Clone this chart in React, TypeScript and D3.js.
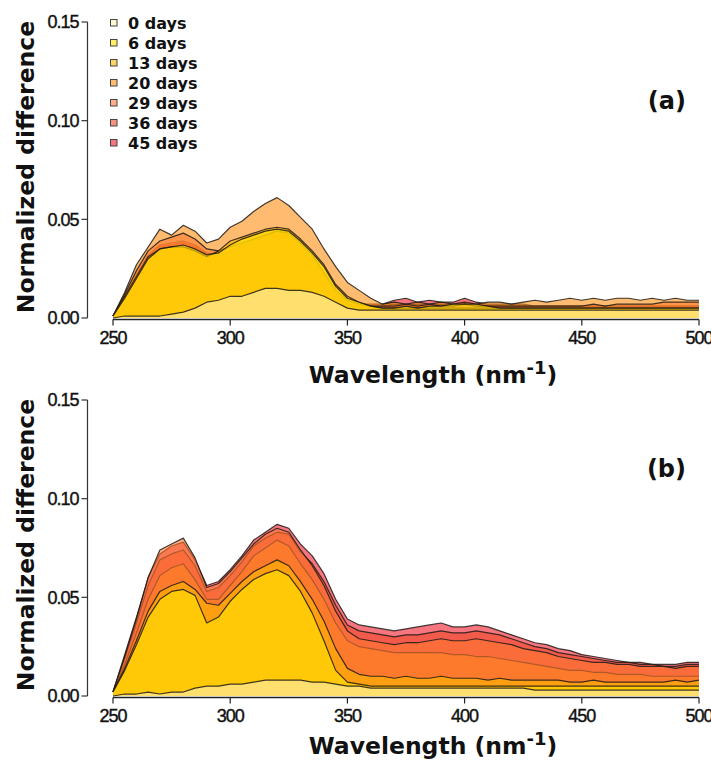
import React from "react";
import * as d3 from "d3";

const WAVELENGTHS = [250,255,260,265,270,275,280,285,290,295,300,305,310,315,320,325,330,335,340,345,350,355,360,365,370,375,380,385,390,395,400,405,410,415,420,425,430,435,440,445,450,455,460,465,470,475,480,485,490,495,500];

const DAY_LABELS = ["0 days","6 days","13 days","20 days","29 days","36 days","45 days"];

// panel (a)
const A_0D = [0.000,0.001,0.001,0.001,0.001,0.002,0.003,0.005,0.008,0.009,0.011,0.011,0.013,0.015,0.015,0.014,0.014,0.013,0.011,0.008,0.005,0.004,0.004,0.004,0.004,0.004,0.004,0.004,0.004,0.004,0.004,0.004,0.004,0.004,0.004,0.004,0.004,0.004,0.004,0.004,0.004,0.004,0.004,0.004,0.004,0.004,0.004,0.004,0.004,0.004,0.004];
const A_6D = [0.001,0.010,0.020,0.030,0.035,0.036,0.037,0.035,0.032,0.033,0.037,0.040,0.042,0.044,0.045,0.044,0.039,0.033,0.026,0.016,0.010,0.008,0.006,0.005,0.005,0.006,0.005,0.006,0.006,0.007,0.007,0.007,0.006,0.005,0.005,0.005,0.005,0.005,0.005,0.005,0.005,0.005,0.005,0.005,0.005,0.005,0.005,0.005,0.005,0.005,0.005];
const A_13D = [0.001,0.011,0.021,0.031,0.035,0.036,0.036,0.034,0.031,0.034,0.039,0.041,0.043,0.045,0.046,0.045,0.040,0.034,0.027,0.017,0.011,0.008,0.006,0.005,0.005,0.005,0.005,0.005,0.005,0.005,0.005,0.005,0.005,0.005,0.005,0.005,0.005,0.005,0.005,0.005,0.005,0.005,0.005,0.005,0.005,0.005,0.005,0.005,0.005,0.005,0.005];
const A_20D = [0.001,0.013,0.027,0.036,0.045,0.042,0.047,0.044,0.038,0.040,0.046,0.049,0.054,0.058,0.061,0.057,0.051,0.045,0.035,0.026,0.018,0.014,0.010,0.007,0.008,0.007,0.008,0.007,0.008,0.007,0.008,0.007,0.008,0.008,0.007,0.008,0.009,0.008,0.009,0.010,0.009,0.010,0.009,0.010,0.010,0.009,0.010,0.009,0.010,0.009,0.009];
const A_29D = [0.001,0.012,0.024,0.034,0.039,0.041,0.043,0.040,0.035,0.034,0.036,0.038,0.040,0.042,0.044,0.043,0.038,0.032,0.023,0.014,0.009,0.007,0.006,0.006,0.006,0.007,0.006,0.007,0.006,0.006,0.007,0.006,0.006,0.006,0.006,0.006,0.006,0.006,0.006,0.006,0.006,0.007,0.006,0.007,0.007,0.007,0.007,0.008,0.008,0.008,0.008];
const A_36D = [0.001,0.011,0.022,0.032,0.037,0.038,0.039,0.037,0.033,0.032,0.034,0.037,0.039,0.042,0.044,0.042,0.037,0.030,0.022,0.013,0.008,0.007,0.006,0.006,0.007,0.006,0.007,0.006,0.007,0.006,0.007,0.006,0.006,0.006,0.006,0.006,0.006,0.006,0.006,0.006,0.006,0.006,0.006,0.006,0.006,0.006,0.006,0.006,0.006,0.006,0.006];
const A_45D = [0.001,0.010,0.021,0.031,0.036,0.037,0.038,0.036,0.032,0.031,0.033,0.036,0.038,0.041,0.043,0.041,0.036,0.029,0.021,0.012,0.008,0.007,0.007,0.007,0.009,0.010,0.008,0.009,0.008,0.008,0.010,0.008,0.007,0.007,0.007,0.007,0.006,0.006,0.006,0.006,0.006,0.006,0.006,0.006,0.006,0.006,0.006,0.006,0.006,0.006,0.006];

// panel (b)
const B_0D = [0.000,0.001,0.001,0.002,0.001,0.002,0.002,0.004,0.005,0.005,0.006,0.006,0.007,0.008,0.008,0.008,0.008,0.007,0.007,0.006,0.005,0.005,0.004,0.004,0.004,0.004,0.004,0.004,0.004,0.004,0.004,0.004,0.004,0.004,0.004,0.004,0.003,0.003,0.003,0.003,0.003,0.003,0.003,0.003,0.003,0.003,0.003,0.003,0.003,0.003,0.003];
const B_6D = [0.002,0.013,0.026,0.040,0.049,0.053,0.054,0.051,0.037,0.040,0.048,0.054,0.059,0.062,0.064,0.061,0.053,0.042,0.028,0.013,0.007,0.006,0.005,0.005,0.005,0.005,0.005,0.005,0.005,0.005,0.005,0.005,0.005,0.005,0.005,0.005,0.005,0.005,0.005,0.005,0.005,0.005,0.005,0.005,0.005,0.005,0.005,0.005,0.005,0.005,0.005];
const B_13D = [0.002,0.014,0.028,0.043,0.053,0.056,0.058,0.054,0.047,0.046,0.052,0.058,0.063,0.066,0.069,0.066,0.058,0.049,0.038,0.024,0.014,0.011,0.010,0.010,0.009,0.010,0.009,0.009,0.010,0.009,0.009,0.009,0.008,0.009,0.008,0.008,0.008,0.008,0.008,0.007,0.007,0.008,0.007,0.007,0.007,0.007,0.007,0.007,0.008,0.007,0.008];
const B_20D = [0.002,0.016,0.032,0.049,0.061,0.065,0.067,0.059,0.049,0.049,0.056,0.063,0.071,0.075,0.079,0.076,0.067,0.059,0.049,0.037,0.028,0.025,0.024,0.023,0.022,0.022,0.022,0.022,0.022,0.021,0.021,0.020,0.020,0.019,0.018,0.017,0.016,0.015,0.014,0.013,0.013,0.012,0.012,0.011,0.011,0.011,0.010,0.010,0.010,0.010,0.010];
const B_29D = [0.002,0.020,0.039,0.060,0.074,0.077,0.080,0.070,0.055,0.057,0.063,0.070,0.077,0.082,0.085,0.083,0.074,0.066,0.056,0.043,0.033,0.029,0.028,0.027,0.026,0.027,0.027,0.028,0.029,0.028,0.028,0.029,0.028,0.027,0.026,0.024,0.023,0.022,0.020,0.019,0.018,0.017,0.017,0.016,0.016,0.015,0.015,0.015,0.014,0.015,0.015];
const B_36D = [0.002,0.019,0.037,0.056,0.069,0.072,0.074,0.066,0.053,0.055,0.061,0.068,0.076,0.080,0.083,0.082,0.073,0.067,0.058,0.046,0.036,0.033,0.032,0.031,0.030,0.031,0.031,0.032,0.033,0.032,0.032,0.033,0.032,0.031,0.029,0.027,0.025,0.024,0.022,0.021,0.020,0.019,0.018,0.017,0.017,0.016,0.016,0.015,0.015,0.016,0.016];
const B_45D = [0.002,0.021,0.040,0.060,0.072,0.076,0.078,0.069,0.056,0.058,0.064,0.071,0.079,0.083,0.087,0.085,0.077,0.071,0.062,0.049,0.039,0.036,0.035,0.034,0.033,0.034,0.035,0.036,0.037,0.035,0.035,0.036,0.035,0.033,0.031,0.029,0.027,0.026,0.024,0.023,0.021,0.020,0.019,0.018,0.017,0.017,0.016,0.016,0.016,0.017,0.017];

const PANEL_A_SERIES = [A_0D, A_6D, A_13D, A_20D, A_29D, A_36D, A_45D];
const PANEL_B_SERIES = [B_0D, B_6D, B_13D, B_20D, B_29D, B_36D, B_45D];

const FILLS = ["#FFF0B4", "#FFE600", "#FFB800", "#FF9010", "#FF7A30", "#F04A2A", "#F01A2C"];
const DRAW_ORDER = [6, 5, 3, 4, 2, 1, 0];

const Y_TICKS = [0, 0.05, 0.1, 0.15];
const X_TICKS = [250, 300, 350, 400, 450, 500];

const W = 711;
const H = 760;
const X_RANGE: [number, number] = [113, 699];
const AXIS_X = 87.5;
const FILL_OPACITY = 0.6;
const TICK_FONT = "'Liberation Sans', Arial, sans-serif";
const LABEL_FONT = "'DejaVu Sans', Verdana, sans-serif";

function Panel({ series, y0, y1, tag, tagY, xLabelY, legend }: any) {
  const x = d3.scaleLinear().domain([250, 500]).range(X_RANGE);
  const y = d3.scaleLinear().domain([0, 0.15]).range([y0, y1]);
  const area = d3
    .area<number>()
    .x((_, i) => x(WAVELENGTHS[i]))
    .y0(y(0))
    .y1((d) => y(d));
  const line = d3
    .line<number>()
    .x((_, i) => x(WAVELENGTHS[i]))
    .y((d) => y(d));
  const axisY = y(0) + 1.5;
  return (
    <g>
      {DRAW_ORDER.map((k) => (
        <g key={k}>
          <path d={area(series[k]) || ""} fill={FILLS[k]} fillOpacity={FILL_OPACITY} stroke="none" />
          <path d={line(series[k]) || ""} fill="none" stroke="#1e1a16" strokeOpacity={0.85} strokeWidth={1.2} strokeLinejoin="round" />
        </g>
      ))}
      {/* y axis */}
      <line x1={AXIS_X} x2={AXIS_X} y1={y(0)} y2={y(0.15)} stroke="#333" strokeWidth={1.2} />
      {Y_TICKS.map((t) => (
        <g key={t}>
          <line x1={AXIS_X - 6} x2={AXIS_X} y1={y(t)} y2={y(t)} stroke="#333" strokeWidth={1.2} />
          <text x={AXIS_X - 9} y={y(t)} dy="0.35em" textAnchor="end" fontFamily={TICK_FONT} fontSize={18} letterSpacing={-1} fill="#111" stroke="#111" strokeWidth={0.4}>
            {t.toFixed(2)}
          </text>
        </g>
      ))}
      {/* x axis */}
      <line x1={x(250)} x2={x(500)} y1={axisY} y2={axisY} stroke="#222" strokeWidth={1.6} />
      {X_TICKS.map((t) => (
        <g key={t}>
          <line x1={x(t)} x2={x(t)} y1={axisY} y2={axisY + 6} stroke="#222" strokeWidth={1.2} />
          <text x={x(t)} y={axisY + 24} textAnchor="middle" fontFamily={TICK_FONT} fontSize={18} letterSpacing={-1} fill="#111" stroke="#111" strokeWidth={0.4}>
            {t}
          </text>
        </g>
      ))}
      <text x={433} y={xLabelY} textAnchor="middle" fontFamily={LABEL_FONT} fontWeight="bold" fontSize={23.5} fill="#111">
        Wavelength (nm<tspan dy={-9} fontSize={18}>-1</tspan><tspan dy={9}>)</tspan>
      </text>
      <text
        transform={`translate(34, ${(y(0) + y(0.15)) / 2 - 3}) rotate(-90)`}
        textAnchor="middle"
        fontFamily={LABEL_FONT}
        fontWeight="bold"
        fontSize={23.5}
        fill="#111"
      >
        Normalized difference
      </text>
      <text x={686} y={tagY} textAnchor="end" fontFamily={LABEL_FONT} fontWeight="bold" fontSize={24} fill="#111">
        {tag}
      </text>
      {legend &&
        DAY_LABELS.map((lab, i) => (
          <g key={lab}>
            <rect x={110.5} y={19.5 + 20 * i} width={6.5} height={6.5} fill={FILLS[i]} fillOpacity={FILL_OPACITY} stroke="#444" strokeWidth={1} />
            <text x={128} y={28.5 + 20 * i} fontFamily={LABEL_FONT} fontWeight="bold" fontSize={16} fill="#111">
              {lab}
            </text>
          </g>
        ))}
    </g>
  );
}

export default function App() {
  return (
    <svg width={W} height={H} style={{ position: "absolute", left: 0, top: 0, background: "#fff" }}>
      <rect x={0} y={0} width={W} height={H} fill="#fff" />
      <Panel series={PANEL_A_SERIES} y0={318} y1={22} tag="(a)" tagY={109} xLabelY={383} legend />
      <Panel series={PANEL_B_SERIES} y0={696} y1={400} tag="(b)" tagY={477} xLabelY={754} legend={false} />
    </svg>
  );
}
